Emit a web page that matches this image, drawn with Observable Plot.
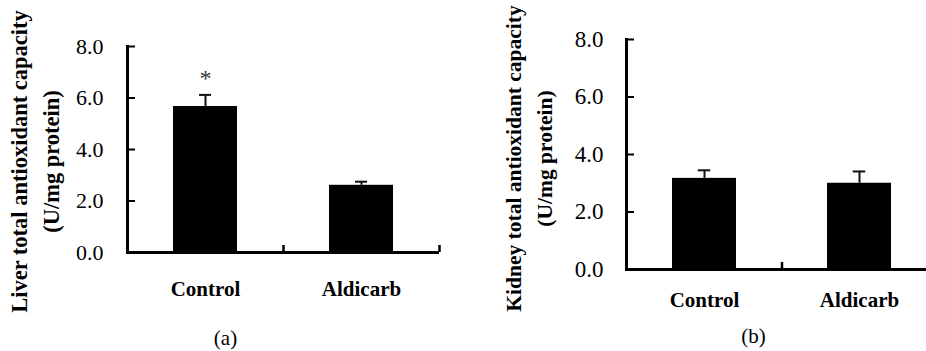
<!DOCTYPE html>
<html>
<head>
<meta charset="utf-8">
<script src="https://cdn.jsdelivr.net/npm/d3@7"></script>
<script src="https://cdn.jsdelivr.net/npm/@observablehq/plot@0.6"></script>
<style>
html, body { margin: 0; padding: 0; background: #fff; }
#wrap { position: relative; width: 926px; height: 351px; overflow: hidden; background: #fff; }
#wrap svg { position: absolute; top: 0; }
</style>
</head>
<body>
<div id="wrap"></div>
<script>
// ---- data ----
const groups = ["Control", "Aldicarb"];
const liverValues = [5.67, 2.61];
const liverErrors = [0.45, 0.14];
const liverSignif = ["*", ""];
const kidneyValues = [3.17, 3.00];
const kidneyErrors = [0.28, 0.41];
const kidneySignif = ["", ""];
const yTicks = [0, 2, 4, 6, 8];
const panelTags = ["(a)", "(b)"];
const liverTitle = ["Liver total antioxidant capacity", "(U/mg protein)"];
const kidneyTitle = ["Kidney total antioxidant capacity", "(U/mg protein)"];

const serif = "'Liberation Serif', 'Times New Roman', Times, serif";

function panel(cfg) {
  const data = groups.map((g, i) => ({
    group: g,
    value: cfg.values[i],
    upper: cfg.values[i] + cfg.errors[i],
    sig: cfg.signif[i]
  }));
  const frameW = cfg.width - cfg.ml - cfg.mr;
  const frameH = 351 - cfg.mt - cfg.mb;
  const step = frameW / 2;
  const bw = step * 0.41;
  return Plot.plot({
    width: cfg.width,
    height: 351,
    marginLeft: cfg.ml,
    marginRight: cfg.mr,
    marginTop: cfg.mt,
    marginBottom: cfg.mb,
    style: { fontFamily: serif, color: "#000", background: "transparent", overflow: "visible" },
    x: { domain: groups, paddingInner: 0.59, paddingOuter: 0.295, align: 0.5, label: null, axis: null },
    y: { domain: [0, 8], label: null, axis: null },
    marks: [
      Plot.barY(data, { x: "group", y: "value", fill: "#000" }),
      Plot.ruleX(data, { x: "group", y1: "value", y2: "upper", stroke: "#111", strokeWidth: 2 }),
      Plot.tickY(data, { x: "group", y: "upper", stroke: "#111", strokeWidth: 2,
        insetLeft: (bw - 12) / 2, insetRight: (bw - 12) / 2 }),
      Plot.text(data.filter(d => d.sig), { x: "group", y: "upper", text: "sig", dy: -17,
        fontSize: 24, fill: "#333" }),
      // y axis ticks pointing inward
      Plot.tickY(yTicks, { y: d => d, stroke: "#000", strokeWidth: 2, insetRight: frameW - 8 }),
      // x axis ticks at group boundaries, pointing up
      Plot.tickX(groups, { x: d => d, dx: step / 2, stroke: "#000", strokeWidth: 2.5, insetTop: frameH - 7 }),
      Plot.frame({ anchor: "left", stroke: "#000", strokeWidth: 3 }),
      Plot.ruleY([0], { stroke: "#000", strokeWidth: 3 }),
      Plot.axisY({ ticks: yTicks, tickFormat: d => d.toFixed(1), tickSize: 0, tickPadding: cfg.tickPad,
        fontSize: cfg.tickFont, label: null }),
      Plot.axisX({ tickSize: 0, tickPadding: cfg.xPad, fontSize: 21, fontWeight: "bold", label: null }),
      Plot.text([cfg.title[0]], { text: d => d, frameAnchor: "left", textAnchor: "middle", lineAnchor: "middle",
        rotate: -90, dx: cfg.t1dx, dy: cfg.tdy, fontSize: cfg.titleFont, fontWeight: "bold" }),
      Plot.text([cfg.title[1]], { text: d => d, frameAnchor: "left", textAnchor: "middle", lineAnchor: "middle",
        rotate: -90, dx: cfg.t2dx, dy: cfg.tdy, fontSize: cfg.titleFont, fontWeight: "bold" }),
      Plot.text([cfg.tag], { text: d => d, frameAnchor: "bottom", dx: cfg.tagDx, dy: cfg.tagDy, fontSize: 21 })
    ]
  });
}

const wrap = document.getElementById("wrap");

const left = panel({
  values: liverValues, errors: liverErrors, signif: liverSignif, tag: panelTags[0], title: liverTitle,
  width: 470, ml: 127, mr: 31, mt: 46, mb: 99,
  tickFont: 22, tickPad: 24, xPad: 29, titleFont: 22.5,
  t1dx: -108, t2dx: -76, tdy: 12, tagDx: -58, tagDy: 92
});
left.style.left = "0px";
wrap.appendChild(left);

const right = panel({
  values: kidneyValues, errors: kidneyErrors, signif: kidneySignif, tag: panelTags[1], title: kidneyTitle,
  width: 470, ml: 156, mr: 4, mt: 39, mb: 82,
  tickFont: 23, tickPad: 23, xPad: 23, titleFont: 21.5,
  t1dx: -112, t2dx: -81, tdy: 4, tagDx: -28, tagDy: 73
});
right.style.left = "470px";
wrap.appendChild(right);
</script>
</body>
</html>
